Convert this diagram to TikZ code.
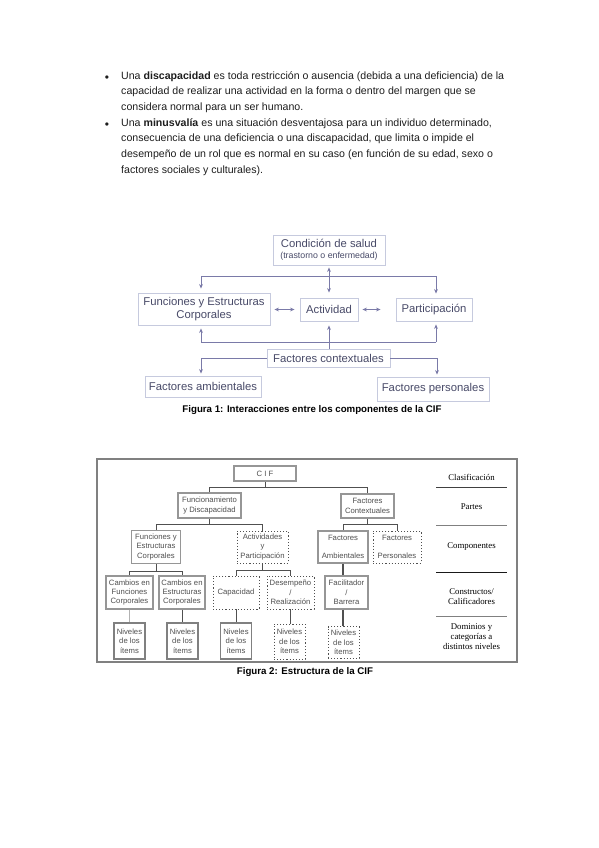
\documentclass[tikz,border=0pt]{standalone}
\usepackage{fontspec}
\setmainfont{Liberation Sans}
\newfontfamily\tablefont{Liberation Serif}
\usetikzlibrary{arrows.meta,positioning}
\definecolor{bodytext}{RGB}{30,30,30}
\definecolor{boxline}{RGB}{198,202,222}
\definecolor{figtext}{RGB}{72,74,104}
\definecolor{arrowline}{RGB}{122,122,168}
\definecolor{treeline}{RGB}{80,80,80}
\definecolor{treebox}{RGB}{150,150,150}

\begin{document}
\begin{tikzpicture}[x=1pt,y=-1pt,>={Stealth[length=4.5pt,width=3.8pt]}]
\useasboundingbox[fill=white] (0,0) rectangle (599,848);
\tikzstyle{every node}=[inner sep=0pt]
\tikzstyle{bodypar}=[anchor=north west, align=left, text=bodytext,
                     font=\fontsize{10.6}{15.7}\selectfont]
\tikzstyle{cifbox}=[draw=boxline, line width=0.9pt, fill=white, text=figtext,
                    align=center, font=\fontsize{11.3}{13}\selectfont]
\tikzstyle{cifarrow}=[->, draw=arrowline, line width=1pt]
\tikzstyle{cifline}=[draw=arrowline, line width=1pt]
\tikzstyle{caption}=[font=\bfseries\fontsize{9.7}{11}\selectfont, text=black]
\tikzstyle{treenode}=[draw=treebox, line width=1.1pt, text=treeline, align=center,
                      font=\fontsize{7.7}{9.3}\selectfont]
\tikzstyle{treedots}=[treenode, draw=treeline, dotted, line width=0.9pt]
\tikzstyle{itemnode}=[treenode, line width=1.6pt, draw=gray]
\tikzstyle{itemdots}=[treedots]
\tikzstyle{treeedge}=[draw=treeline, line width=0.8pt]
\tikzstyle{rowlabel}=[align=center, text=black, font=\tablefont\fontsize{8.8}{10}\selectfont]

% text above the figures
\node[bodytext, font=\fontsize{12}{12}\selectfont] (dot1) at (107,78.5) {•};
\node[bodypar] (par1) at (121,71) {Una \textbf{discapacidad} es toda restricción o ausencia (debida a una deficiencia) de la\\
capacidad de realizar una actividad en la forma o dentro del margen que se\\
considera normal para un ser humano.};
\node[bodytext, font=\fontsize{12}{12}\selectfont] (dot2) at (107,125.5) {•};
\node[bodypar] (par2) at (121,118) {Una \textbf{minusvalía} es una situación desventajosa para un individuo determinado,\\
consecuencia de una deficiencia o una discapacidad, que limita o impide el\\
desempeño de un rol que es normal en su caso (en función de su edad, sexo o\\
factores sociales y culturales).};

% Figura 1
\node[cifbox, minimum width=112pt, minimum height=30pt] (salud) at (329,250)
  {Condición de salud\\[-2pt]{\fontsize{8.8}{10}\selectfont (trastorno o enfermedad)}};
\node[cifbox, minimum width=132pt, minimum height=32pt, font=\fontsize{11.3}{13.5}\selectfont] (func) at (204,309)
  {Funciones y Estructuras\\Corporales};
\node[cifbox, minimum width=58pt, minimum height=23pt] (activ) at (329,309.5) {Actividad};
\node[cifbox, minimum width=76pt, minimum height=23pt] (partic) at (434,309.5) {Participación};
\node[cifbox, minimum width=123pt, minimum height=18pt] (context) at (328.5,358) {Factores contextuales};
\node[cifbox, minimum width=116pt, minimum height=21pt] (ambient) at (203,386.5) {Factores ambientales};
\node[cifbox, minimum width=112pt, minimum height=24pt] (person) at (433,389) {Factores personales};

\coordinate (topl) at (201,276);
\coordinate (topr) at (436,276);
\coordinate (botl) at (201,342);
\coordinate (botr) at (436,342);
\draw[cifline] (topl) -- (topr);
\draw[cifarrow, shorten >=4pt] (topl) -- (topl |- func.north);
\draw[cifarrow, shorten >=4pt] (topr) -- (topr |- partic.north);
\draw[cifarrow, <->, shorten <=2pt, shorten >=5pt] (salud.south) -- (salud.south |- activ.north);
\draw[cifarrow, <->, shorten <=4pt, shorten >=5pt] (func.east |- activ) -- (activ.west);
\draw[cifarrow, <->, shorten <=4pt, shorten >=15pt] (activ.east) -- (partic.west);
\draw[cifline] (botl) -- (botr);
\draw[cifarrow, shorten >=3pt] (botl) -- (botl |- func.south);
\draw[cifarrow, shorten >=3pt] (botr) -- (botr |- partic.south);
\draw[cifarrow, shorten >=4pt] (context.north -| activ) -- (activ.south);
\draw[cifarrow, shorten >=2pt] (context.west) -| ([xshift=-2pt]ambient.north);
\draw[cifarrow, shorten >=2pt] (context.east) -| ([xshift=4pt]person.north);

\node[caption] (cap1) at (312,410) {Figura 1: Interacciones entre los componentes de la CIF};

% Figura 2
\draw[draw=gray, line width=1.2pt] (97,459) rectangle (517,662);
\node[treenode, minimum width=62pt, minimum height=15pt] (cif) at (265,473.5) {C I F};
\node[treenode, minimum width=63pt, minimum height=25pt, line width=1.5pt] (fd) at (209.5,505.5) {Funcionamiento\\y Discapacidad};
\node[treenode, minimum width=53pt, minimum height=24pt] (fc) at (367.5,506) {Factores\\Contextuales};
\node[treenode, minimum width=49pt, minimum height=33pt] (fe) at (156,547) {Funciones y\\Estructuras\\Corporales};
\node[treedots, minimum width=51pt, minimum height=32pt] (ap) at (262.5,547) {Actividades\\y\\Participación};
\node[treenode, minimum width=50pt, minimum height=32pt] (fa) at (343,547) {Factores\\[9pt]Ambientales};
\node[treedots, minimum width=48pt, minimum height=32pt] (fp) at (397,547) {Factores\\[9pt]Personales};
\node[treenode, minimum width=47pt, minimum height=33pt] (cf) at (129.5,592.5) {Cambios en\\Funciones\\Corporales};
\node[treenode, minimum width=46pt, minimum height=33pt] (ce) at (182,592.5) {Cambios en\\Estructuras\\Corporales};
\node[treedots, minimum width=46pt, minimum height=33pt] (capac) at (236,592.5) {Capacidad};
\node[treedots, minimum width=47pt, minimum height=33pt] (desem) at (290.5,592.5) {Desempeño\\/\\Realización};
\node[treenode, minimum width=43pt, minimum height=33pt] (fb) at (346.5,592.5) {Facilitador\\/\\Barrera};
\node[itemnode, minimum width=31pt, minimum height=36pt] (niv1) at (129.5,641) {Niveles\\de los\\ítems};
\node[itemnode, minimum width=31pt, minimum height=36pt] (niv2) at (182.5,641) {Niveles\\de los\\ítems};
\node[itemnode, minimum width=31pt, minimum height=36pt] (niv3) at (236,641) {Niveles\\de los\\ítems};
\node[itemdots, minimum width=31pt, minimum height=35pt] (niv4) at (289.5,641.5) {Niveles\\de los\\ítems};
\node[itemdots, minimum width=31pt, minimum height=32pt] (niv5) at (343.5,642.5) {Niveles\\de los\\ítems};

\draw[treeedge] (cif.south) -- ++(0,6) coordinate (j0);
\draw[treeedge] (j0) -| (fd.north);
\draw[treeedge] (j0) -| (fc.north);
\draw[treeedge] (fd.south) -- ++(0,6) coordinate (j1);
\draw[treeedge] (j1) -| (fe.north);
\draw[treeedge] (j1) -| (ap.north);
\draw[treeedge] (fc.south) -- ++(0,6) coordinate (j2);
\draw[treeedge] (j2) -| (fa.north);
\draw[treeedge] (j2) -| (fp.north);
\draw[treeedge] (fe.south) -- ++(0,7) coordinate (j3);
\draw[treeedge] (j3) -| (cf.north);
\draw[treeedge] (j3) -| (ce.north);
\draw[treeedge] (ap.south) -- ++(0,7) coordinate (j4);
\draw[treeedge] (j4) -| (capac.north);
\draw[treeedge] (j4) -| (desem.north);
\draw[treeedge, line width=1.1pt] (fa.south) -- (fa.south |- fb.north);
\draw[treeedge, draw=gray!60] (cf.south) -- (cf.south |- niv1.north);
\draw[treeedge] (ce.south) -- (ce.south |- niv2.north);
\draw[treeedge] (capac.south) -- (capac.south |- niv3.north);
\draw[treeedge] (desem.south) -- (desem.south |- niv4.north);
\draw[treeedge, line width=1.1pt] (fb.south -| fa) -- (fa |- niv5.north);

% column on the right
\node[rowlabel] (rclas) at (471.5,477) {Clasificación};
\node[rowlabel] (rpart) at (471.5,507) {Partes};
\node[rowlabel] (rcomp) at (471.5,547) {Componentes};
\node[rowlabel] (rcons) at (471.5,597) {Constructos/\\Calificadores};
\node[rowlabel] (rdom) at (471.5,637) {Dominios y\\categorías a\\distintos niveles};
\draw[draw=black!75, line width=0.9pt] (436,487) -- (507,487);
\draw[draw=gray, line width=0.7pt] (436,525) -- (507,525);
\draw[draw=black!90, line width=0.9pt] (436,572) -- (507,572);
\draw[draw=gray, line width=0.7pt] (436,616) -- (507,616);

\node[caption] (cap2) at (305,672) {Figura 2: Estructura de la CIF};
\end{tikzpicture}
\end{document}
